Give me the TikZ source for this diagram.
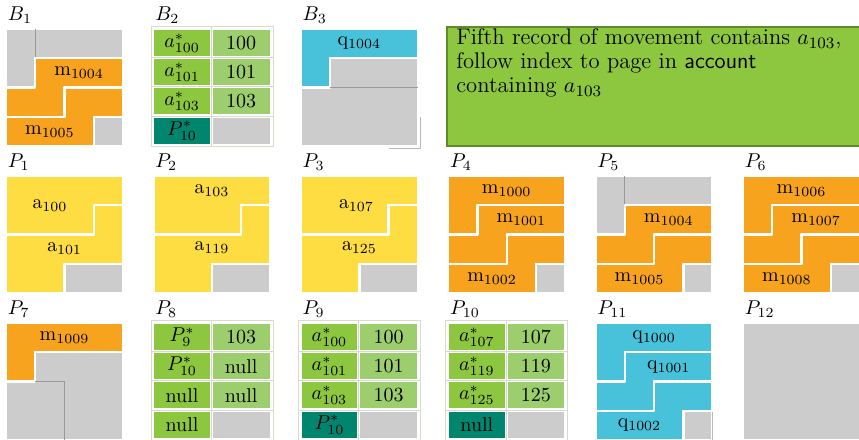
\documentclass[tikz,border=0pt]{standalone}
\usepackage{xcolor}
\definecolor{recm}{HTML}{F7A31E}
\definecolor{reca}{HTML}{FDDD41}
\definecolor{recq}{HTML}{48C2DA}
\definecolor{freec}{HTML}{CCCCCC}
\definecolor{oldc}{HTML}{999999}
\definecolor{keyc}{HTML}{8DC63F}
\definecolor{ptrc}{HTML}{9CCE6E}
\definecolor{tealc}{HTML}{00856E}
\definecolor{gridc}{HTML}{D4DCCB}
\definecolor{notec}{HTML}{5E8A2A}
\usepackage{tikz}

% record #2..#2+#3-1 of a 4x4 page, in cell units
\newcommand{\rec}[3]{%
  \pgfmathtruncatemacro{\recfr}{div(#2,4)}%
  \pgfmathtruncatemacro{\recfc}{mod(#2,4)}%
  \pgfmathtruncatemacro{\reclr}{div(#2+#3-1,4)}%
  \pgfmathtruncatemacro{\reclc}{mod(#2+#3-1,4)+1}%
  \pgfmathtruncatemacro{\recnr}{\recfr+1}%
  \pgfmathtruncatemacro{\recbr}{\reclr+1}%
  \ifnum\recfr=\reclr
    \filldraw[slot,fill=#1] (\recfc,\recfr) rectangle (\reclc,\recbr);
  \else
    \filldraw[slot,fill=#1] (\recfc,\recfr) -- (4,\recfr) -- (4,\reclr) -- (\reclc,\reclr) -- (\reclc,\recbr) -- (0,\recbr) -- (0,\recnr) -- (\recfc,\recnr) -- cycle;
  \fi}
% index page
\newcommand{\tabgrid}{%
  \draw[gridc,line width=0.4pt] (-0.08,-0.1) rectangle (4.09,4.03)
    (1.985,-0.1) -- (1.985,4.03) (-0.08,0.975) -- (4.09,0.975)
    (-0.08,1.975) -- (4.09,1.975) (-0.08,2.975) -- (4.09,2.975);}
\newcommand{\kcell}[5]{%
  \fill[#4] (0.03+2.01*#3,#2+0.03) rectangle (1.93+2.04*#3,#2+0.92);
  \node (#1) at (0.98+2.02*#3,#2+0.48) {#5};}
\newcommand{\nocell}[1]{\fill[freec] (2.04,#1+0.03) rectangle (3.97,#1+0.92);}

\begin{document}
\begin{tikzpicture}[x=0.5pt,y=-0.5pt]
\tikzstyle{slot}=[draw=white,line width=1.2pt,line join=round]
\tikzstyle{oldline}=[oldc,line width=0.6pt]
\tikzstyle{pagelabel}=[anchor=base west,inner sep=0pt]
\tikzstyle{page}=[x=14.625pt,y=-14.625pt]
\useasboundingbox (0,0) rectangle (859,440);

% buffers
\begin{scope}[shift={(6,29)},page]
\node[pagelabel] (b1) at (0.05,-0.3) {$B_1$};
\rec{freec}{0}{5}
\draw[oldline] (1,0) -- (1,1);
\rec{recm}{5}{5}
\rec{recm}{10}{5}
\rec{freec}{15}{1}
\node (b1m1004) at (2.5,1.5) {$\mathrm{m}_{1004}$};
\node (b1m1005) at (1.5,3.5) {$\mathrm{m}_{1005}$};
\end{scope}

\begin{scope}[shift={(153.4,29)},page]
\node[pagelabel] (b2) at (0.05,-0.3) {$B_2$};
\tabgrid
\kcell{b2a100}{0}{0}{keyc}{$a^*_{100}$}
\kcell{b2n100}{0}{1}{ptrc}{100}
\kcell{b2a101}{1}{0}{keyc}{$a^*_{101}$}
\kcell{b2n101}{1}{1}{ptrc}{101}
\kcell{b2a103}{2}{0}{keyc}{$a^*_{103}$}
\kcell{b2n103}{2}{1}{ptrc}{103}
\kcell{b2p10}{3}{0}{tealc}{$P^*_{10}$}
\nocell{3}
\end{scope}

\begin{scope}[shift={(300.8,29)},page]
\node[pagelabel] (b3) at (0.05,-0.3) {$B_3$};
\rec{recq}{0}{5}
\rec{freec}{5}{11}
\draw[oldline] (1,2) -- (4,2);
\draw[oldc!70,line width=0.4pt] (3,4.07) -- (4.08,4.07) -- (4.08,3);
\node (b3q1004) at (2,0.5) {$\mathrm{q}_{1004}$};
\end{scope}

\draw[notec,fill=keyc,line width=0.6pt] (447,27) rectangle (864,146);
\node[anchor=north west,align=left,inner sep=0pt,font=\fontsize{11.3}{12}\selectfont] (note) at (456,28.5)
  {Fifth record of movement contains $a_{103}$,\\
   follow index to page in \textsf{account}\\
   containing $a_{103}$};

% pages
\begin{scope}[shift={(6,176)},page]
\node[pagelabel] (p1) at (0.05,-0.3) {$P_1$};
\rec{reca}{0}{7}
\rec{reca}{7}{7}
\rec{freec}{14}{2}
\node (p1a100) at (1.5,1) {$\mathrm{a}_{100}$};
\node (p1a101) at (2,2.5) {$\mathrm{a}_{101}$};
\end{scope}

\begin{scope}[shift={(153.4,176)},page]
\node[pagelabel] (p2) at (0.05,-0.3) {$P_2$};
\rec{reca}{0}{7}
\rec{reca}{7}{7}
\rec{freec}{14}{2}
\node (p2a103) at (2,0.5) {$\mathrm{a}_{103}$};
\node (p2a119) at (2,2.45) {$\mathrm{a}_{119}$};
\end{scope}

\begin{scope}[shift={(300.8,176)},page]
\node[pagelabel] (p3) at (0.05,-0.3) {$P_3$};
\rec{reca}{0}{7}
\rec{reca}{7}{7}
\rec{freec}{14}{2}
\node (p3a107) at (1.9,1) {$\mathrm{a}_{107}$};
\node (p3a125) at (2,2.45) {$\mathrm{a}_{125}$};
\end{scope}

\begin{scope}[shift={(448.2,176)},page]
\node[pagelabel] (p4) at (0.05,-0.3) {$P_4$};
\rec{recm}{0}{5}
\rec{recm}{5}{5}
\rec{recm}{10}{5}
\rec{freec}{15}{1}
\node (p4m1000) at (2,0.5) {$\mathrm{m}_{1000}$};
\node (p4m1001) at (2.5,1.5) {$\mathrm{m}_{1001}$};
\node (p4m1002) at (1.5,3.5) {$\mathrm{m}_{1002}$};
\end{scope}

\begin{scope}[shift={(595.6,176)},page]
\node[pagelabel] (p5) at (0.05,-0.3) {$P_5$};
\rec{freec}{0}{5}
\draw[oldline] (1,0) -- (1,1);
\rec{recm}{5}{5}
\rec{recm}{10}{5}
\rec{freec}{15}{1}
\node (p5m1004) at (2.5,1.5) {$\mathrm{m}_{1004}$};
\node (p5m1005) at (1.5,3.5) {$\mathrm{m}_{1005}$};
\end{scope}

\begin{scope}[shift={(743,176)},page]
\node[pagelabel] (p6) at (0.05,-0.3) {$P_6$};
\rec{recm}{0}{5}
\rec{recm}{5}{5}
\rec{recm}{10}{5}
\rec{freec}{15}{1}
\node (p6m1006) at (2,0.5) {$\mathrm{m}_{1006}$};
\node (p6m1007) at (2.5,1.5) {$\mathrm{m}_{1007}$};
\node (p6m1008) at (1.5,3.5) {$\mathrm{m}_{1008}$};
\end{scope}

\begin{scope}[shift={(6,323)},page]
\node[pagelabel] (p7) at (0.05,-0.3) {$P_7$};
\rec{recm}{0}{5}
\rec{freec}{5}{11}
\draw[oldline] (1,2) -- (2,2) -- (2,4);
\node (p7m1009) at (2,0.5) {$\mathrm{m}_{1009}$};
\end{scope}

\begin{scope}[shift={(153.4,323)},page]
\node[pagelabel] (p8) at (0.05,-0.3) {$P_8$};
\tabgrid
\kcell{p8p9}{0}{0}{keyc}{$P^*_{9}$}
\kcell{p8n103}{0}{1}{ptrc}{103}
\kcell{p8p10}{1}{0}{keyc}{$P^*_{10}$}
\kcell{p8null1}{1}{1}{ptrc}{null}
\kcell{p8null2}{2}{0}{keyc}{null}
\kcell{p8null3}{2}{1}{ptrc}{null}
\kcell{p8null4}{3}{0}{keyc}{null}
\nocell{3}
\end{scope}

\begin{scope}[shift={(300.8,323)},page]
\node[pagelabel] (p9) at (0.05,-0.3) {$P_9$};
\tabgrid
\kcell{p9a100}{0}{0}{keyc}{$a^*_{100}$}
\kcell{p9n100}{0}{1}{ptrc}{100}
\kcell{p9a101}{1}{0}{keyc}{$a^*_{101}$}
\kcell{p9n101}{1}{1}{ptrc}{101}
\kcell{p9a103}{2}{0}{keyc}{$a^*_{103}$}
\kcell{p9n103}{2}{1}{ptrc}{103}
\kcell{p9p10}{3}{0}{tealc}{$P^*_{10}$}
\nocell{3}
\end{scope}

\begin{scope}[shift={(448.2,323)},page]
\node[pagelabel] (p10) at (0.05,-0.3) {$P_{10}$};
\tabgrid
\kcell{p10a107}{0}{0}{keyc}{$a^*_{107}$}
\kcell{p10n107}{0}{1}{ptrc}{107}
\kcell{p10a119}{1}{0}{keyc}{$a^*_{119}$}
\kcell{p10n119}{1}{1}{ptrc}{119}
\kcell{p10a125}{2}{0}{keyc}{$a^*_{125}$}
\kcell{p10n125}{2}{1}{ptrc}{125}
\kcell{p10null}{3}{0}{tealc}{null}
\nocell{3}
\end{scope}

\begin{scope}[shift={(595.6,323)},page]
\node[pagelabel] (p11) at (0.05,-0.3) {$P_{11}$};
\rec{recq}{0}{5}
\rec{recq}{5}{5}
\rec{recq}{10}{5}
\rec{freec}{15}{1}
\draw[oldc!70,line width=0.4pt] (4,3.05) -- (4,4);
\node (p11q1000) at (2,0.5) {$\mathrm{q}_{1000}$};
\node (p11q1001) at (2.5,1.5) {$\mathrm{q}_{1001}$};
\node (p11q1002) at (1.5,3.5) {$\mathrm{q}_{1002}$};
\end{scope}

\begin{scope}[shift={(743,323)},page]
\node[pagelabel] (p12) at (0.05,-0.3) {$P_{12}$};
\rec{freec}{0}{16}
\end{scope}
\end{tikzpicture}
\end{document}
